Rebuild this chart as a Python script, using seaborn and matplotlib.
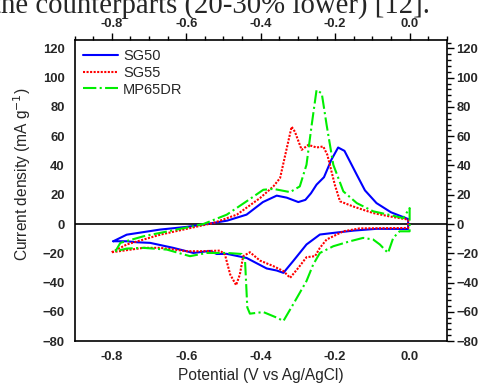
import matplotlib
matplotlib.use("Agg")
import matplotlib.pyplot as plt
from matplotlib.ticker import MultipleLocator
import seaborn as sns
import pandas as pd

# ==========================================
# 1. DATA
# ==========================================
sg50_x = [-0.796, -0.76, -0.67, -0.60, -0.545, -0.49, -0.438, -0.394, -0.357, -0.33,
          -0.299, -0.28, -0.265, -0.25, -0.23, -0.21, -0.192, -0.175, -0.142, -0.12,
          -0.089, -0.05, -0.004,
          -0.004, -0.089, -0.15, -0.205, -0.241, -0.277, -0.313, -0.339, -0.357, -0.384,
          -0.438, -0.491, -0.518, -0.536, -0.581, -0.635, -0.697, -0.732, -0.76, -0.796]
sg50_y = [-11.8, -7.3, -3.8, -2.0, 0.0, 2.3, 6.4, 15.0, 19.4, 18.0,
          15.0, 16.5, 21.0, 26.9, 32.0, 44.0, 52.3, 50.0, 33.7, 23.0,
          14.3, 8.0, 3.4,
          -3.4, -3.3, -4.5, -6.1, -7.2, -14.0, -25.4, -33.4, -31.8, -30.4,
          -23.2, -20.4, -20.5, -18.4, -19.8, -16.3, -12.9, -12.5, -11.8, -11.8]

sg55_x = [-0.80, -0.76, -0.67, -0.581, -0.527, -0.464, -0.402, -0.366, -0.348, -0.33,
          -0.317, -0.308, -0.29, -0.272, -0.25, -0.232, -0.221, -0.201, -0.187, -0.152,
          -0.098, -0.054, -0.004,
          -0.004, -0.134, -0.178, -0.223, -0.241, -0.254, -0.277, -0.299, -0.321, -0.339,
          -0.366, -0.402, -0.429, -0.447, -0.456, -0.466, -0.482, -0.496, -0.509, -0.563,
          -0.598, -0.67, -0.715, -0.80]
sg55_y = [-19.3, -14.0, -7.3, -2.3, 0.7, 6.4, 17.7, 25.7, 31.4, 51.8,
          66.5, 63.0, 50.7, 54.1, 52.3, 53.0, 47.3, 26.9, 15.5, 12.0,
          7.5, 5.2, 3.0,
          -2.7, -3.0, -5.0, -10.6, -16.3, -22.0, -22.7, -30.0, -36.8, -32.2,
          -28.8, -25.0, -19.3, -22.0, -34.5, -41.8, -34.5, -20.9, -18.2, -18.6,
          -18.6, -16.3, -16.3, -19.3]

mp65_x = [-0.79, -0.777, -0.715, -0.626, -0.554, -0.491, -0.438, -0.393, -0.366, -0.321,
          -0.295, -0.277, -0.263, -0.25, -0.236, -0.223, -0.205, -0.178, -0.142, -0.098,
          -0.045, -0.017, 0.0,
          0.0, -0.027, -0.044, -0.058, -0.08, -0.098, -0.125, -0.16, -0.205, -0.241,
          -0.259, -0.277, -0.313, -0.339, -0.357, -0.393, -0.429, -0.436, -0.442, -0.451,
          -0.491, -0.545, -0.59, -0.652, -0.715, -0.76, -0.79]
mp65_y = [-18.6, -12.9, -8.4, -3.8, 0.0, 6.4, 15.5, 23.4, 24.0, 21.8,
          25.7, 40.5, 67.8, 91.6, 89.3, 67.8, 40.5, 22.3, 14.3, 8.7,
          5.7, 4.0, 10.9,
          -5.0, -5.0, -9.5, -19.8, -14.0, -10.6, -9.5, -11.8, -15.2, -19.8,
          -27.7, -39.0, -55.0, -66.3, -64.0, -60.2, -61.3, -57.0, -25.4, -20.5,
          -19.8, -19.8, -22.0, -17.5, -16.3, -16.8, -18.6]

labels = ["SG50", "SG55", "MP65DR"]
x_ticks = [-0.8, -0.6, -0.4, -0.2, 0.0]
y_ticks = [-80, -60, -40, -20, 0, 20, 40, 60, 80, 100, 120]

# ==========================================
# 2. STYLE
# ==========================================
sns.set_style("white")
plt.rcParams["font.family"] = ["Liberation Sans", "DejaVu Sans"]

fig = plt.figure(figsize=(4.81, 3.90), dpi=100)
ax = fig.add_axes([0.155, 0.1256, 0.774, 0.7726])

series = [(sg50_x, sg50_y, "#0000ff", "-", 1.5),
          (sg55_x, sg55_y, "#ff0000", (0, (1, 0.7)), 1.5),
          (mp65_x, mp65_y, "#00ee00", "-.", 1.5)]
for (xs, ys, col, ls, lw), lab in zip(series, labels):
    df = pd.DataFrame({"x": xs, "y": ys})
    sns.lineplot(data=df, x="x", y="y", sort=False, estimator=None, ax=ax,
                 color=col, linestyle=ls, linewidth=lw, label=lab)

ax.axhline(0, color="black", linewidth=1.2, zorder=0)

ax.set_xlim(-0.9, 0.1)
ax.set_ylim(-80, 126)
ax.set_xticks(x_ticks)
ax.set_yticks(y_ticks)
ax.xaxis.set_minor_locator(MultipleLocator(0.05))
ax.yaxis.set_minor_locator(MultipleLocator(4))
ax.set_xticklabels([f"{v:.1f}" for v in x_ticks])

ax.tick_params(which="both", direction="out", top=True, right=True,
               labeltop=True, labelright=True, width=1.0, color="black")
ax.tick_params(which="major", length=5, labelsize=9.4, pad=2)
ax.tick_params(which="minor", length=3)
for t in ax.xaxis.get_major_ticks() + ax.yaxis.get_major_ticks():
    t.label1.set_fontweight("bold")
    t.label2.set_fontweight("bold")

for sp in ax.spines.values():
    sp.set_color("black")
    sp.set_linewidth(1.2)

ax.set_xlabel("Potential (V vs Ag/AgCl)", fontsize=11.2, labelpad=4)
ax.set_ylabel("Current density (mA g$^{-1}$)", fontsize=11.2)
ax.yaxis.set_label_coords(-0.112, 0.555)

ax.legend(loc="upper left", frameon=False, fontsize=10.5, handlelength=2.45,
          handletextpad=0.32, labelspacing=0.2, borderaxespad=0.0,
          borderpad=0.0, bbox_to_anchor=(0.022, 0.97))

# cropped caption line from the source page
fig.text(430 / 481, 1 - 12.5 / 390, "the counterparts (20-30% lower) [12].",
         ha="right", va="baseline", fontsize=20.7, family="Liberation Serif")

fig.savefig("out.png", dpi=100)
